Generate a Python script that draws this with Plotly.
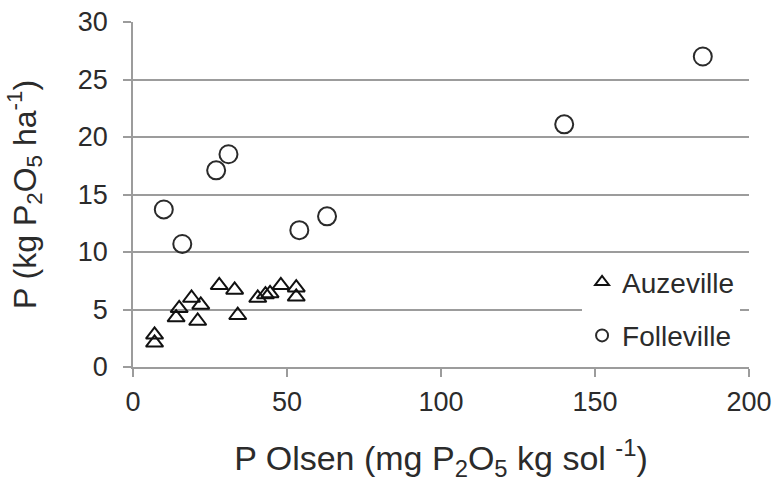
import plotly.graph_objects as go

# Auzeville (triangles)
auz_x = [7, 7, 15, 14, 19, 22, 21, 28, 33, 34, 40.5, 43, 44.5, 48, 53, 53]
auz_y = [2.8, 2.1, 5.1, 4.3, 6.0, 5.4, 4.0, 7.1, 6.7, 4.5, 6.0, 6.3, 6.4, 7.1, 6.9, 6.1]

# Folleville (circles)
fol_x = [10, 16, 27, 31, 54, 63, 140, 185]
fol_y = [13.7, 10.7, 17.1, 18.5, 11.9, 13.1, 21.1, 27.0]

x_ticks = [0, 50, 100, 150, 200]
y_ticks = [0, 5, 10, 15, 20, 25, 30]

FONT = "Liberation Sans, Arial, sans-serif"
GRID = "#9c9c9c"
TXT = "#2b2b2b"

fig = go.Figure()
fig.add_trace(go.Scatter(
    x=auz_x, y=auz_y, mode="markers", name="Auzeville", legendgroup="a",
    marker=dict(symbol="triangle-up-open", size=15, color="#111111",
                line=dict(width=2, color="#111111")),
))
fig.add_trace(go.Scatter(
    x=fol_x, y=fol_y, mode="markers", name="Folleville", legendgroup="f",
    marker=dict(symbol="circle-open", size=18, color="#2a2a2a",
                line=dict(width=2, color="#2a2a2a")),
))

fig.update_layout(
    width=775, height=483,
    margin=dict(l=133, r=26, t=22, b=116),
    paper_bgcolor="white", plot_bgcolor="white",
    font=dict(family=FONT, size=27, color=TXT),
    showlegend=True,
    legend=dict(x=0.729, y=0.318, xanchor="left", yanchor="top",
                bgcolor="white", itemsizing="constant", tracegroupgap=14,
                font=dict(family=FONT, size=28, color=TXT)),
    xaxis=dict(range=[0, 200], tickvals=x_ticks, showgrid=False, zeroline=False,
               automargin=False,
               showline=True, linecolor=GRID, linewidth=1.5,
               ticks="outside", ticklen=8, tickcolor=GRID, tickwidth=1.5,
               tickfont=dict(size=27, color=TXT), ticklabelstandoff=2,
               title=dict(text="P Olsen (mg P<sub>2</sub>O<sub>5</sub> kg sol <sup>-1</sup>)",
                          font=dict(size=34, color=TXT), standoff=30)),
    yaxis=dict(range=[0, 30], tickvals=y_ticks, showgrid=True, gridcolor=GRID,
               gridwidth=1.5, zeroline=False, automargin=False,
               showline=True, linecolor=GRID, linewidth=1.5,
               ticks="outside", ticklen=8, tickcolor=GRID, tickwidth=1.5,
               tickfont=dict(size=27, color=TXT), ticklabelstandoff=10,
               title=dict(text="P (kg P<sub>2</sub>O<sub>5</sub> ha<sup>-1</sup>)",
                          font=dict(size=32, color=TXT), standoff=32)),
)

fig.write_html("out.html", config={"displayModeBar": False},
               post_script="document.body.style.margin='0px';")
